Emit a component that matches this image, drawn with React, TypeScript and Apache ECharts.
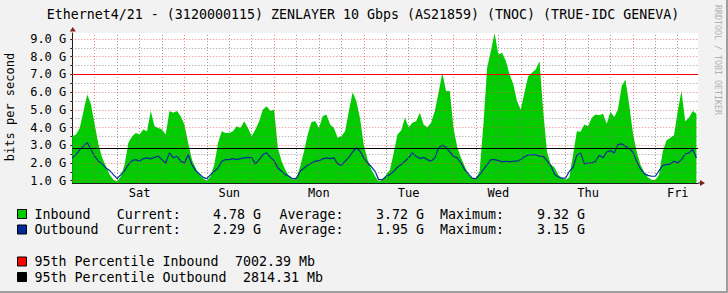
import React, { useEffect, useRef } from "react";
import * as echarts from "echarts";

const TITLE = "Ethernet4/21 - (3120000115) ZENLAYER 10 Gbps (AS21859) (TNOC) (TRUE-IDC GENEVA)";
const Y_TITLE = "bits per second";
const WATERMARK = "RRDTOOL / TOBI OETIKER";

// hourly samples (G bits/s), hour 0 = Fri 18:00
const inbound = [
  3.51, 3.61, 3.98, 4.93, 5.87, 5.3, 4.17, 3.04, 2.29, 1.81, 1.34, 1.06, 0.96, 1.25, 1.91, 3.13,
  3.51, 3.7, 3.61, 3.89, 3.79, 4.93, 4.08, 3.98, 3.89, 3.61, 4.93, 4.83, 4.93, 4.64, 4.17, 3.13,
  2.19, 1.72, 1.34, 1.12, 1.0, 1.25, 1.91, 3.13, 3.79, 3.7, 3.7, 3.79, 4.08, 3.98, 4.36, 3.98,
  3.51, 3.89, 4.36, 5.02, 5.21, 4.93, 5.02, 2.85, 2.1, 1.62, 1.25, 1.04, 1.15, 1.81, 2.66, 3.61,
  4.32, 4.36, 3.98, 4.64, 4.74, 4.17, 3.98, 3.42, 3.51, 3.79, 4.93, 6.0, 5.5, 4.5, 3.0, 2.2,
  1.65, 1.25, 0.96, 1.06, 1.34, 1.62, 2.57, 3.61, 3.83, 4.55, 4.02, 4.27, 4.36, 4.83, 4.17, 4.02,
  4.27, 4.93, 5.96, 7.1, 6.06, 6.06, 3.98, 2.89, 2.29, 1.81, 1.34, 1.15, 1.12, 1.53, 4.17, 7.38,
  8.32, 9.32, 8.13, 8.23, 7.76, 7.0, 6.44, 5.49, 5.0, 6.0, 6.9, 7.1, 7.28, 7.76, 4.93, 2.66,
  1.91, 1.76, 1.34, 1.15, 1.06, 1.19, 2.47, 3.79, 3.76, 4.17, 4.08, 4.55, 4.74, 4.7, 4.78, 4.21,
  4.89, 4.59, 5.02, 6.34, 6.72, 5.3, 3.7, 2.66, 1.91, 1.49, 1.19, 1.06, 1.04, 1.34, 2.66, 3.27,
  3.42, 3.57, 4.93, 6.06, 4.36, 4.55, 4.93, 4.78,
];
const outbound = [
  2.29, 2.47, 2.76, 2.95, 3.15, 2.76, 2.38, 2.1, 1.95, 1.72, 1.57, 1.34, 1.12, 1.34, 1.57, 1.91,
  2.13, 2.19, 2.1, 2.25, 2.29, 2.23, 2.32, 2.38, 2.19, 2.0, 2.57, 2.29, 2.38, 2.1, 2.0, 2.47,
  1.91, 1.57, 1.38, 1.19, 1.12, 1.34, 1.53, 1.72, 2.1, 2.19, 2.19, 2.25, 2.19, 2.25, 2.29, 2.32,
  2.29, 1.95, 2.19, 2.47, 2.57, 2.32, 2.13, 1.72, 1.53, 1.34, 1.25, 1.1, 1.15, 1.53, 1.72, 1.87,
  2.0, 2.1, 2.13, 2.23, 2.29, 2.25, 2.29, 1.95, 1.87, 2.1, 2.32, 2.62, 2.85, 2.66, 2.29, 2.0,
  1.8, 1.53, 1.06, 1.06, 1.25, 1.34, 1.53, 1.76, 1.91, 2.1, 2.29, 2.57, 2.38, 2.25, 2.32, 2.19,
  2.1, 2.29, 2.85, 3.0, 2.89, 2.62, 2.38, 2.29, 2.0, 1.62, 1.38, 1.15, 1.12, 1.34, 1.62, 1.91,
  2.19, 2.19, 2.13, 2.06, 2.1, 2.06, 2.1, 2.1, 2.2, 2.35, 2.45, 2.47, 2.47, 2.38, 2.38, 2.13,
  1.87, 1.38, 1.21, 1.15, 1.15, 1.53, 1.76, 2.44, 2.57, 1.95, 2.0, 2.0, 2.1, 2.44, 2.29, 2.62,
  2.7, 2.57, 3.04, 3.08, 2.95, 2.81, 2.62, 2.1, 1.68, 1.4, 1.3, 1.25, 1.25, 1.57, 1.87, 1.91,
  1.95, 2.1, 2.0, 2.19, 2.51, 2.57, 2.76, 2.29,
];

const dayNames = ["Sat", "Sun", "Mon", "Tue", "Wed", "Thu", "Fri"];
const dayLabelHours = [18, 42, 66, 90, 114, 138, 162];
const midnightHours = [6, 30, 54, 78, 102, 126, 150];
const minorXHours = [12, 18, 24, 36, 42, 48, 60, 66, 72, 84, 90, 96, 108, 114, 120, 132, 138, 144, 156, 162];
const yMajor = [1, 2, 3, 4, 5, 6, 7, 8, 9];
const yMinor = [1.5, 2.5, 3.5, 4.5, 5.5, 6.5, 7.5, 8.5];
const yTickValues = [1, 1.5, 2, 2.5, 3, 3.5, 4, 4.5, 5, 5.5, 6, 6.5, 7, 7.5, 8, 8.5, 9];

const X_MIN = 0;
const X_MAX = 167.5;
const Y_MIN = 0.87;
const Y_MAX = 9.34;

const p95InboundMb = 7002.39;
const p95OutboundMb = 2814.31;

const legendNames = ["Inbound", "Outbound"];
const legendColors = ["#00cc00", "#002a97"];
const currentVals = [4.78, 2.29];
const averageVals = [3.72, 1.95];
const maximumVals = [9.32, 3.15];
const pctNames = ["95th Percentile Inbound", "95th Percentile Outbound"];
const pctColors = ["#ff0000", "#000000"];
const pctVals = [p95InboundMb, p95OutboundMb];

const MONO = "'DejaVu Sans Mono', monospace";

export default function App() {
  const ref = useRef<HTMLDivElement>(null);
  useEffect(() => {
    if (!ref.current) return;
    const chart = echarts.init(ref.current, undefined, { renderer: "svg" });
    const minorStyle = { color: "rgba(130,130,130,0.8)", width: 1, type: [1, 2] };
    const majorStyle = { color: "rgba(222,79,79,0.7)", width: 1, type: [1, 2] };
    const hLine = (v: number, lineStyle: any) => [
      { coord: [X_MIN, v], lineStyle },
      { coord: [X_MAX, v] },
    ];
    const vLine = (h: number, lineStyle: any) => [
      { coord: [h, Y_MIN], lineStyle },
      { coord: [h, Y_MAX] },
    ];
    const gridLines = [
      ...yMinor.map((v) => hLine(v, minorStyle)),
      ...minorXHours.map((v) => vLine(v, minorStyle)),
      ...yMajor.map((v) => hLine(v, majorStyle)),
      ...midnightHours.map((v) => vLine(v, majorStyle)),
    ];
    const legendRowsY = [214, 229.5];
    const pctRowsY = [261.5, 277];
    const graphics: any[] = [
      { type: "rect", z: 100, shape: { x: 698.5, y: 20, width: 28, height: 175 }, style: { fill: "#f2f2f2" } },
      { type: "rect", z: 100, shape: { x: 0, y: 291, width: 728, height: 2 }, style: { fill: "#9e9e9e" } },
      { type: "rect", z: 100, shape: { x: 726, y: 0, width: 2, height: 293 }, style: { fill: "#9e9e9e" } },
      { type: "line", z: 101, shape: { x1: 698, y1: 183, x2: 701, y2: 183 }, style: { stroke: "#1f1f1f", lineWidth: 1 } },
      {
        type: "text", x: 363, y: 14,
        style: { text: TITLE, font: `13.3px ${MONO}`, fill: "#000", textAlign: "center", textVerticalAlign: "middle" },
      },
      {
        type: "text", x: 10, y: 107, rotation: Math.PI / 2,
        style: { text: Y_TITLE, font: `12px ${MONO}`, fill: "#000", textAlign: "center", textVerticalAlign: "middle" },
      },
      {
        type: "text", z: 101, x: 718, y: 60, rotation: -Math.PI / 2,
        style: { text: WATERMARK, font: `8.3px ${MONO}`, fill: "#b0b0b0", textAlign: "center", textVerticalAlign: "middle" },
      },
      { type: "polygon", z: 101, shape: { points: [[700, 180], [705, 183], [700, 186]] }, style: { fill: "#801f1f" } },
      { type: "polygon", z: 101, shape: { points: [[69.8, 31.5], [72.8, 27], [75.8, 31.5]] }, style: { fill: "#801f1f" } },
    ];
    const txt = (x: number, y: number, text: string, align = "left") => ({
      type: "text", x, y,
      style: { text, font: `13.3px ${MONO}`, fill: "#000", textAlign: align, textVerticalAlign: "middle" },
    });
    legendNames.forEach((name, i) => {
      const y = legendRowsY[i];
      graphics.push({ type: "rect", shape: { x: 17.5, y: y - 4.5, width: 9, height: 9 }, style: { fill: legendColors[i], stroke: "#000", lineWidth: 1 } });
      graphics.push(txt(34.5, y, name));
      graphics.push(txt(116.7, y, "Current:"));
      graphics.push(txt(261, y, currentVals[i].toFixed(2) + " G", "right"));
      graphics.push(txt(279.4, y, "Average:"));
      graphics.push(txt(424, y, averageVals[i].toFixed(2) + " G", "right"));
      graphics.push(txt(440, y, "Maximum:"));
      graphics.push(txt(585, y, maximumVals[i].toFixed(2) + " G", "right"));
    });
    pctNames.forEach((name, i) => {
      const y = pctRowsY[i];
      graphics.push({ type: "rect", shape: { x: 17.5, y: y - 4.5, width: 9, height: 9 }, style: { fill: pctColors[i], stroke: "#000", lineWidth: 1 } });
      graphics.push(txt(34.5, y, name));
      graphics.push(txt(34.5 + (name.length + 2) * 8.02, y, pctVals[i].toFixed(2) + " Mb"));
    });

    chart.setOption({
      animation: false,
      backgroundColor: "#f2f2f2",
      grid: { left: 72.3, top: 33, right: 29.7, bottom: 110, show: true, backgroundColor: "#ffffff", borderWidth: 0 },
      xAxis: {
        type: "value", min: X_MIN, max: X_MAX,
        axisLine: { show: true, onZero: false, lineStyle: { color: "#1f1f1f", width: 1 } },
        axisTick: { show: false },
        splitLine: { show: false },
        axisLabel: {
          customValues: dayLabelHours,
          formatter: (v: number) => dayNames[dayLabelHours.indexOf(v)] ?? "",
          fontFamily: MONO, fontSize: 12, color: "#000", margin: 4,
        },
      },
      yAxis: {
        type: "value", min: Y_MIN, max: Y_MAX,
        axisLine: { show: true, onZero: false, lineStyle: { color: "#1f1f1f", width: 1 } },
        axisTick: { show: true, customValues: yTickValues, length: 2, lineStyle: { color: "#1f1f1f" } },
        splitLine: { show: false },
        axisLabel: {
          customValues: yMajor,
          formatter: (v: number) => v.toFixed(1) + " G",
          fontFamily: MONO, fontSize: 12, color: "#000", margin: 6,
        },
      },
      series: [
        {
          name: "grid", type: "line", z: 1, data: [[0, 1]], showSymbol: false,
          lineStyle: { opacity: 0 }, silent: true,
          markLine: { silent: true, symbol: ["none", "none"], label: { show: false }, data: gridLines },
        },
        {
          name: "Inbound", type: "line", z: 2, showSymbol: false,
          data: inbound.map((v, h) => [h, v]),
          lineStyle: { width: 0 },
          areaStyle: { color: "#00cc00", opacity: 1, origin: "start" },
        },
        {
          name: "pct", type: "line", z: 3, data: [[0, 1]], showSymbol: false,
          lineStyle: { opacity: 0 }, silent: true,
          markLine: {
            silent: true, symbol: ["none", "none"], label: { show: false },
            data: [
              hLine(p95InboundMb / 1000, { color: "#ff0000", width: 1, type: "solid" }),
              hLine(p95OutboundMb / 1000, { color: "#000000", width: 1, type: "solid" }),
            ],
          },
        },
        {
          name: "Outbound", type: "line", z: 4, showSymbol: false,
          data: outbound.map((v, h) => [h, v]),
          lineStyle: { color: "#002a97", width: 1.2 },
        },
      ],
      graphic: graphics,
    });
    return () => chart.dispose();
  }, []);
  return <div ref={ref} style={{ position: "fixed", left: 0, top: 0, width: 728, height: 293 }} />;
}
